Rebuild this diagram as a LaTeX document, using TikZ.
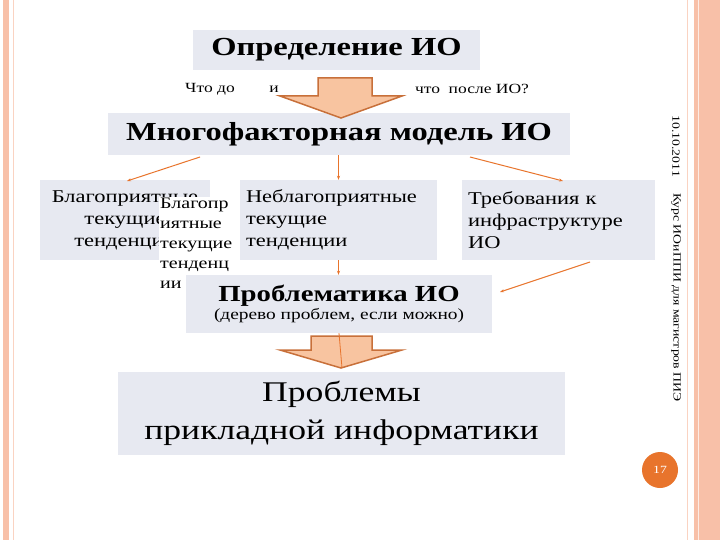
\documentclass[tikz,border=0pt]{standalone}
\usepackage{fontspec}
\usetikzlibrary{arrows.meta}
\setmainfont[FakeStretch=1.25]{Liberation Serif}
\begin{document}
\begin{tikzpicture}[x=1pt,y=-1pt,
  box/.style={fill=boxc,inner sep=0pt},
  con/.style={draw=arrc,line width=1pt,-{Stealth[length=4pt,width=3pt]}},
  blk/.style={draw=blkd,line width=1.5pt,fill=blkf,line join=miter}]
\definecolor{boxc}{HTML}{E7E9F1}
\definecolor{arrc}{HTML}{E8742C}
\definecolor{blkd}{HTML}{C8703A}
\definecolor{blkf}{HTML}{F8C4A0}
\definecolor{sal}{HTML}{F8C0A8}
\useasboundingbox (0,0) rectangle (720,540);
\fill[white] (0,0) rectangle (720,540);
% borders
\fill[sal] (3,0) rectangle (9,540);
\draw[sal!70,line width=0.6pt] (13,0) -- (13,540);
\draw[sal!70,line width=0.6pt] (687,0) -- (687,540);
\fill[sal] (694,0) rectangle (720,540);
\draw[white!70!sal,line width=1pt] (698,0) -- (698,540);
% boxes
\node[box,minimum width=287,minimum height=40] (def) at (336.5,50) {\fontsize{26}{28}\selectfont\bfseries Определение ИО};
\node[font=\fontsize{14}{16}\selectfont] (t1) at (210,89) {Что до};
\node[font=\fontsize{14}{16}\selectfont] (t2) at (274,89) {и};
\node[font=\fontsize{14}{16}\selectfont] (t3) at (472,89) {что\ \ после ИО?};
\node[box,minimum width=462,minimum height=42] (mod) at (339,134) {\fontsize{26}{28}\selectfont\bfseries Многофакторная модель ИО};
\draw[blk] (318,78) -- (372,78) -- (372,96) -- (402,96) -- (341,118) -- (280,96) -- (318,96) -- cycle;
\node[box,minimum width=170,minimum height=80,align=center,font=\fontsize{18}{22}\selectfont] (b1) at (125,220) {Благоприятные\\текущие\\тенденции};
\node[fill=white,inner sep=1pt,align=left,font=\fontsize{16}{20}\selectfont,anchor=north west] (ov) at (159,197) {Благопр\\иятные\\текущие\\тенденц\\ии};
\node[box,minimum width=197,minimum height=80,align=left,font=\fontsize{18}{22}\selectfont,text width=185] (b2) at (338.5,220) {Неблагоприятные\\текущие\\тенденции};
\node[box,minimum width=193,minimum height=80,align=left,font=\fontsize{18}{22}\selectfont,text width=181] (b3) at (558.5,220) {Требования к\\инфраструктуре\\ИО};
\node[box,minimum width=306,minimum height=58,align=center] (pr) at (339,304) {{\fontsize{23}{26}\selectfont\bfseries Проблематика ИО}\\[1pt]{\fontsize{15.5}{17}\selectfont (дерево проблем, если можно)}};
\node[box,minimum width=447,minimum height=83,align=center,font=\fontsize{28.5}{38}\selectfont] (pp) at (341.5,413.5) {Проблемы\\прикладной информатики};
\draw[blk] (311,336) -- (372,336) -- (372,350) -- (402,350) -- (341,368) -- (280,350) -- (311,350) -- cycle;
% connectors
\coordinate (m1) at (200,157); \coordinate (m3) at (470,157);
\draw[con] (m1) -- (127,181);
\draw[con] (mod.south -| b2.north) -- (b2.north);
\draw[con] (m3) -- (563,181);
\draw[con] (b2.south) -- (pr.north -| b2.south);
\draw[con] (590,262) -- (500,292);
\draw[arrc,line width=0.8pt] (pr.south) -- (342,368);
% side texts
\node[rotate=-90,font=\fontsize{11}{12}\selectfont,anchor=west] (dt) at (676,112) {10.10.2011};
\node[rotate=-90,font=\fontsize{11}{12}\selectfont,anchor=west] (ct) at (676,190) {Курс ИОиППИ для магистров ПИЭ};
\node[circle,fill=arrc,minimum size=36,inner sep=0pt,text=white,font=\fontsize{11}{12}\selectfont] (pg) at (660,470) {17};
\end{tikzpicture}
\end{document}
